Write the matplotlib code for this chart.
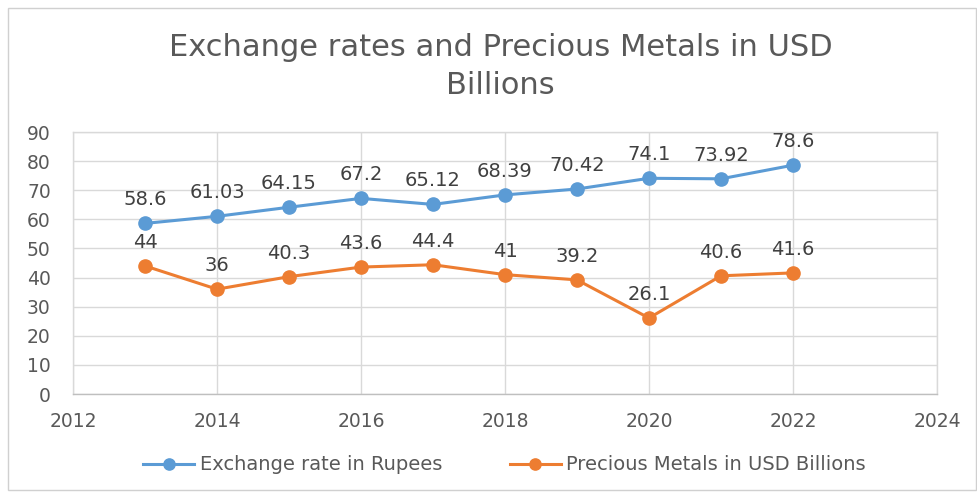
import matplotlib
matplotlib.use("Agg")
import matplotlib.pyplot as plt
from matplotlib.patches import Rectangle

years = [2013, 2014, 2015, 2016, 2017, 2018, 2019, 2020, 2021, 2022]
exchange_rate = [58.6, 61.03, 64.15, 67.2, 65.12, 68.39, 70.42, 74.1, 73.92, 78.6]
precious_metals = [44, 36, 40.3, 43.6, 44.4, 41, 39.2, 26.1, 40.6, 41.6]
exchange_labels = ["58.6", "61.03", "64.15", "67.2", "65.12", "68.39", "70.42", "74.1", "73.92", "78.6"]
metals_labels = ["44", "36", "40.3", "43.6", "44.4", "41", "39.2", "26.1", "40.6", "41.6"]
x_ticks = [2012, 2014, 2016, 2018, 2020, 2022, 2024]
y_ticks = [0, 10, 20, 30, 40, 50, 60, 70, 80, 90]

blue = "#5B9BD5"
orange = "#ED7D31"
grid = "#D9D9D9"
text_gray = "#595959"
label_gray = "#404040"

fig = plt.figure(figsize=(9.78, 4.95), dpi=100)
fig.patch.set_facecolor("white")

# outer chart border
fig.patches.append(Rectangle((8 / 978, 5 / 495), 968 / 978, 482 / 495,
                             transform=fig.transFigure, fill=False,
                             edgecolor="#D0D0D0", linewidth=1.0))

ax = fig.add_axes([73 / 978, 1 - 394 / 495, (937 - 73) / 978, (394 - 132) / 495])

ax.plot(years, exchange_rate, color=blue, linewidth=2.2, marker="o",
        markersize=9.5, label="Exchange rate in Rupees", zorder=3)
ax.plot(years, precious_metals, color=orange, linewidth=2.2, marker="o",
        markersize=9.5, label="Precious Metals in USD Billions", zorder=3)

for xv, yv, s in zip(years, exchange_rate, exchange_labels):
    ax.annotate(s, (xv, yv), xytext=(0, 14), textcoords="offset pixels",
                ha="center", va="bottom", fontsize=14, color=label_gray)
for xv, yv, s in zip(years, precious_metals, metals_labels):
    ax.annotate(s, (xv, yv), xytext=(0, 14), textcoords="offset pixels",
                ha="center", va="bottom", fontsize=14, color=label_gray)

ax.set_xlim(2012, 2024)
ax.set_ylim(0, 90)
ax.set_xticks(x_ticks)
ax.set_yticks(y_ticks)
ax.grid(True, color=grid, linewidth=1.0)
ax.set_axisbelow(True)
for sp in ax.spines.values():
    sp.set_color(grid)
    sp.set_linewidth(1.0)
ax.spines["bottom"].set_color("#BFBFBF")
ax.tick_params(axis="both", length=0, labelsize=13.5, colors=text_gray)
ax.tick_params(axis="x", pad=13)
ax.tick_params(axis="y", pad=16)

fig.text(0.512, 1 - 48 / 495, "Exchange rates and Precious Metals in USD",
         ha="center", va="center", fontsize=22, color=text_gray)
fig.text(0.512, 1 - 85 / 495, "Billions",
         ha="center", va="center", fontsize=22, color=text_gray)

leg = fig.legend(loc="center", bbox_to_anchor=(0.516, 1 - 465 / 495), ncol=2,
                 frameon=False, handlelength=2.6, columnspacing=3.5,
                 handletextpad=0.3, markerscale=0.85,
                 prop={"family": ["Liberation Sans Narrow", "DejaVu Sans"], "size": 14})
for t in leg.get_texts():
    t.set_color(text_gray)

fig.savefig("out.png", dpi=100)
